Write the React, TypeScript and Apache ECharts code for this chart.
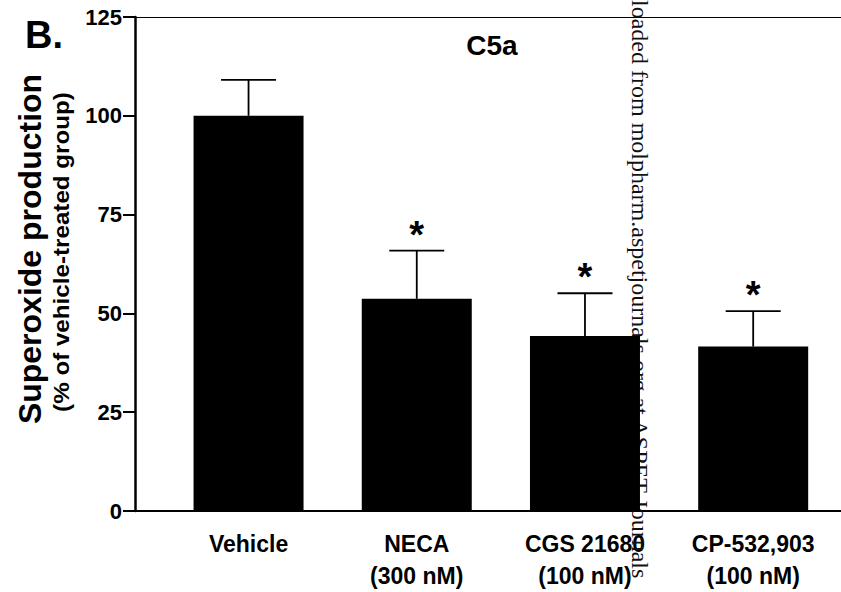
import React, { useEffect, useRef } from "react";
import * as echarts from "echarts";

const categories = ["Vehicle", "NECA", "CGS 21680", "CP-532,903"];
const concentrations = ["", "(300 nM)", "(100 nM)", "(100 nM)"];
const meanValues = [100, 53.7, 44.3, 41.6];
const semValues = [9.1, 12.2, 10.8, 9.0];
const significance = ["", "*", "*", "*"];
const yTickInterval = 25;
const yMax = 125;

const FONT = "'Liberation Sans', Arial, Helvetica, sans-serif";

export default function App() {
  const ref = useRef<HTMLDivElement>(null);

  useEffect(() => {
    document.body.style.margin = "0";
    if (!ref.current) return;
    const chart = echarts.init(ref.current, null, { renderer: "svg" });

    const xMin = -0.675;
    const xMax = 3.522;

    const barData = meanValues.map((v, i) => [i, v]);
    const errData = meanValues.map((v, i) => [i, v, v + semValues[i]]);

    const option: any = {
      animation: false,
      backgroundColor: "#ffffff",
      grid: { left: 135, right: 0, top: 17, bottom: 80, containLabel: false },
      xAxis: [
        {
          type: "value",
          min: xMin,
          max: xMax,
          position: "bottom",
          axisLine: { show: true, onZero: false, lineStyle: { color: "#000", width: 2 } },
          axisTick: { show: false },
          splitLine: { show: false },
          axisLabel: {
            show: true,
            customValues: categories.map((_, i) => i),
            margin: 17,
            color: "#000",
            fontFamily: FONT,
            fontWeight: "bold",
            fontSize: 23,
            lineHeight: 32,
            formatter: (val: number) => {
              const i = Math.round(val);
              const name = categories[i] ?? "";
              const conc = concentrations[i] ?? "";
              return conc ? name + "\n" + conc : name;
            },
          },
        },
        {
          type: "value",
          min: xMin,
          max: xMax,
          position: "top",
          axisLine: { show: true, onZero: false, lineStyle: { color: "#000", width: 1 } },
          axisTick: { show: false },
          axisLabel: { show: false },
          splitLine: { show: false },
        },
      ],
      yAxis: {
        type: "value",
        min: 0,
        max: yMax,
        interval: yTickInterval,
        axisLine: { show: true, onZero: false, lineStyle: { color: "#000", width: 2.5 } },
        axisTick: { show: true, length: 12, lineStyle: { color: "#000", width: 2 } },
        splitLine: { show: false },
        axisLabel: {
          margin: 13,
          color: "#000",
          fontFamily: FONT,
          fontWeight: "bold",
          fontSize: 22,
        },
      },
      series: [
        {
          type: "bar",
          xAxisIndex: 0,
          data: barData,
          barWidth: 110,
          itemStyle: { color: "#000" },
          z: 2,
        },
        {
          type: "custom",
          xAxisIndex: 0,
          data: errData,
          z: 3,
          renderItem: (params: any, api: any) => {
            const i = params.dataIndex;
            const x = api.value(0);
            const base = api.coord([x, api.value(1)]);
            const top = api.coord([x, api.value(2)]);
            const half = 27.5;
            const children: any[] = [
              {
                type: "line",
                shape: { x1: top[0], y1: top[1], x2: base[0], y2: base[1] },
                style: { stroke: "#000", lineWidth: 1.8 },
              },
              {
                type: "line",
                shape: { x1: top[0] - half, y1: top[1], x2: top[0] + half, y2: top[1] },
                style: { stroke: "#000", lineWidth: 1.8 },
              },
            ];
            if (significance[i]) {
              children.push({
                type: "text",
                x: top[0],
                y: top[1] - 16,
                style: {
                  text: significance[i],
                  fill: "#000",
                  fontFamily: FONT,
                  fontWeight: "bold",
                  fontSize: 38,
                  textAlign: "center",
                  textVerticalAlign: "middle",
                },
              });
            }
            return { type: "group", children };
          },
        },
      ],
      graphic: [
        {
          type: "text",
          x: 44,
          y: 35,
          style: {
            text: "B.",
            fill: "#000",
            fontFamily: FONT,
            fontWeight: "bold",
            fontSize: 38,
            textAlign: "center",
            textVerticalAlign: "middle",
          },
        },
        {
          type: "text",
          x: 492,
          y: 45,
          style: {
            text: "C5a",
            fill: "#000",
            fontFamily: FONT,
            fontWeight: "bold",
            fontSize: 28,
            textAlign: "center",
            textVerticalAlign: "middle",
          },
        },
        {
          type: "text",
          x: 30,
          y: 249,
          rotation: Math.PI / 2,
          scaleX: 1.0,
          style: {
            text: "Superoxide production",
            fill: "#000",
            fontFamily: FONT,
            fontWeight: "bold",
            fontSize: 32,
            textAlign: "center",
            textVerticalAlign: "middle",
          },
        },
        {
          type: "text",
          x: 61,
          y: 252,
          rotation: Math.PI / 2,
          scaleX: 1.1,
          style: {
            text: "(% of vehicle-treated group)",
            fill: "#000",
            fontFamily: FONT,
            fontWeight: "bold",
            fontSize: 22,
            textAlign: "center",
            textVerticalAlign: "middle",
          },
        },
        {
          type: "text",
          x: 628,
          y: 0,
          rotation: -Math.PI / 2,
          z: 1,
          style: {
            text: "loaded from molpharm.aspetjournals.org at ASPET Journals",
            fill: "#111",
            fontFamily: "'Liberation Serif', 'Times New Roman', serif",
            fontSize: 24,
            textAlign: "left",
            textVerticalAlign: "bottom",
          },
        },
      ],
    };

    chart.setOption(option);
    return () => chart.dispose();
  }, []);

  return <div ref={ref} style={{ width: 841, height: 592 }} />;
}
